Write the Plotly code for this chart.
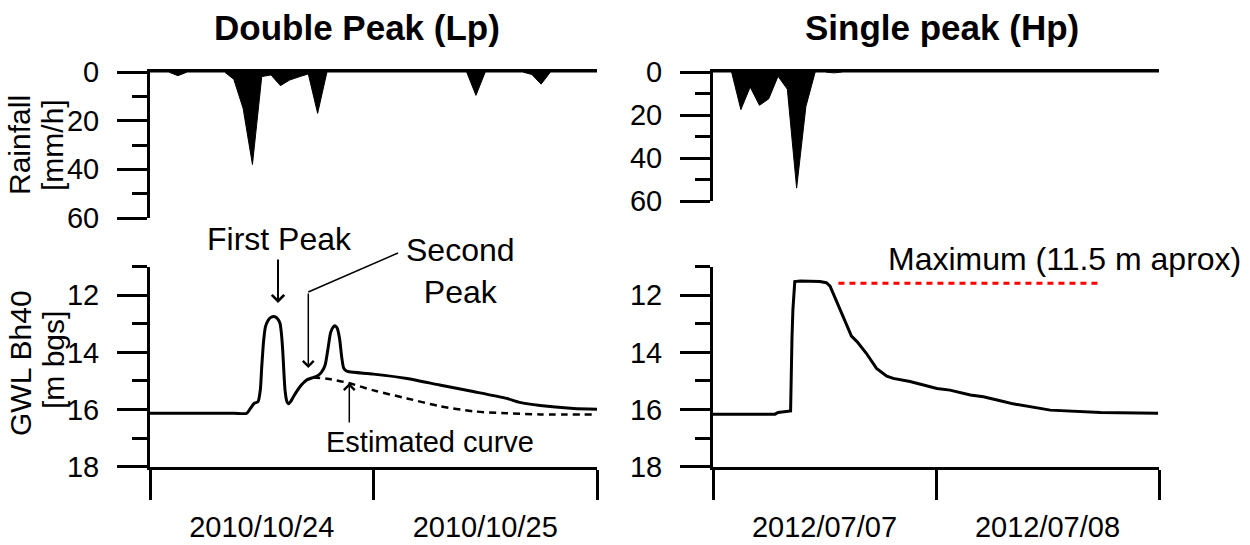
import pandas as pd
import plotly.graph_objects as go

W, H = 1250, 545
FONT = "Liberation Sans, Arial, Helvetica, sans-serif"

# ---------------- data ----------------
lp_start = "2010-10-24 00:00"
hp_start = "2012-07-07 00:00"
span_hours = 48

rain_lp_hours = [0, 2, 3, 4, 8, 9, 10, 11, 12, 13, 14, 15, 16, 17, 18, 19, 34, 35, 36, 40, 41, 42, 43, 48]
rain_lp_mm = [0, 0, 1.5, 0, 0, 3, 15, 38, 1.9, 1.2, 5.6, 3.3, 2.0, 0.8, 17, 0, 0, 9.6, 0, 0, 1.0, 5.0, 0, 0]

gwl_lp_hours = [0, 9.0, 10.4, 10.8, 11.2, 11.6, 11.85, 12.0, 12.2, 12.4, 12.7, 13.0, 13.4, 13.7, 13.96, 14.1,
                14.25, 14.5, 14.7, 14.86, 15.1, 15.4, 16.1, 16.8, 17.5, 18.0, 18.4, 18.8, 19.1, 19.4,
                19.7, 19.9, 20.1, 20.35, 20.6, 20.8, 21.1, 21.4, 24.0, 27.6, 31.1, 34.7, 38.3, 39.7,
                41.9, 45.5, 48.0]
gwl_lp_m = [16.13, 16.13, 16.13, 15.95, 15.78, 15.72, 15.3, 14.5, 13.6, 13.1, 12.87, 12.77, 12.75, 12.82, 12.98,
            13.3, 13.92, 15.32, 15.72, 15.8, 15.72, 15.55, 15.2, 14.97, 14.88, 14.82, 14.7, 14.45, 13.9, 13.3,
            13.1, 13.07, 13.15, 13.5, 14.2, 14.55, 14.65, 14.68, 14.76, 14.91, 15.14, 15.37, 15.61, 15.75,
            15.86, 15.96, 15.99]

est_lp_hours = [17.5, 19.0, 21.3, 24.0, 27.6, 31.1, 34.7, 38.3, 41.9, 48.0]
est_lp_m = [14.88, 14.92, 15.07, 15.33, 15.61, 15.88, 16.06, 16.13, 16.17, 16.17]

rain_hp_hours = [0, 2, 3, 4, 5, 6, 7, 8, 9, 10, 11, 12, 13, 14, 48]
rain_hp_mm = [0, 0, 17.5, 7, 15.5, 12.5, 2, 8, 54, 16, 0, 0, 0.4, 0, 0]

gwl_hp_hours = [0, 6.67, 7.0, 8.1, 8.35, 8.5, 8.6, 8.8, 9.4, 11.5, 12.2, 12.6, 13.1, 13.6, 14.4, 14.9,
                15.5, 16.5, 17.6, 18.7, 19.4, 21.2, 24.1, 25.5, 27.7, 29.1, 31.25, 32.3, 36.3, 41.7, 47.9]
gwl_hp_m = [16.16, 16.16, 16.1, 16.05, 16.05, 13.5, 12.5, 11.52, 11.5, 11.52, 11.56, 11.68, 12.05, 12.46,
            13.04, 13.43, 13.62, 14.03, 14.56, 14.83, 14.91, 15.02, 15.26, 15.32, 15.49, 15.55, 15.72,
            15.8, 16.02, 16.1, 16.13]

max_hp_hours = [13.5, 41.7]
max_hp_m = [11.58, 11.58]

titles = ["Double Peak (Lp)", "Single peak (Hp)"]


def times(start, hours):
    t0 = pd.Timestamp(start)
    return [t0 + pd.Timedelta(hours=h) for h in hours]


def px(x):
    return x / W


def py(y):
    return 1 - y / H


fig = go.Figure()

# rainfall traces
fig.add_trace(go.Scatter(x=times(lp_start, rain_lp_hours), y=rain_lp_mm, mode="lines",
                         line=dict(color="black", width=1), fill="tozeroy", fillcolor="black",
                         xaxis="x", yaxis="y", showlegend=False))
fig.add_trace(go.Scatter(x=times(hp_start, rain_hp_hours), y=rain_hp_mm, mode="lines",
                         line=dict(color="black", width=1), fill="tozeroy", fillcolor="black",
                         xaxis="x3", yaxis="y3", showlegend=False))

# groundwater traces
fig.add_trace(go.Scatter(x=times(lp_start, est_lp_hours), y=est_lp_m, mode="lines",
                         line=dict(color="black", width=2.5, dash="7px,5px", shape="spline", smoothing=0.8),
                         xaxis="x2", yaxis="y2", showlegend=False))
fig.add_trace(go.Scatter(x=times(lp_start, gwl_lp_hours), y=gwl_lp_m, mode="lines",
                         line=dict(color="black", width=3, shape="spline", smoothing=0.6),
                         xaxis="x2", yaxis="y2", showlegend=False))
fig.add_trace(go.Scatter(x=times(hp_start, max_hp_hours), y=max_hp_m, mode="lines",
                         line=dict(color="#ff0000", width=3, dash="6px,5px"),
                         xaxis="x4", yaxis="y4", showlegend=False))
fig.add_trace(go.Scatter(x=times(hp_start, gwl_hp_hours), y=gwl_hp_m, mode="lines",
                         line=dict(color="black", width=3),
                         xaxis="x4", yaxis="y4", showlegend=False))

left_dom = [px(150), px(597)]
right_dom = [px(713), px(1159)]
gwl_dom = [py(466.7), py(266.7)]

tickfont = dict(family=FONT, size=29, color="black")


def rain_x(dom, start, anchor):
    t0 = pd.Timestamp(start)
    return dict(domain=dom, anchor=anchor, type="date", range=[t0, t0 + pd.Timedelta(hours=span_hours)],
                side="top", showline=True, linewidth=3, linecolor="black", ticks="",
                showticklabels=False, showgrid=False, zeroline=False, automargin=False)


def gwl_x(dom, start, anchor):
    t0 = pd.Timestamp(start)
    return dict(domain=dom, anchor=anchor, type="date", range=[t0, t0 + pd.Timedelta(hours=span_hours)],
                side="bottom", showline=True, linewidth=3, linecolor="black", ticks="outside",
                ticklen=30, tickwidth=3, tickcolor="black", dtick=86400000, tick0=t0,
                tickformat="%Y/%m/%d", ticklabelmode="period", tickfont=tickfont,
                showgrid=False, zeroline=False, ticklabelstandoff=2, automargin=False)


def yax(dom, rng, dtick, minor_dtick, anchor):
    return dict(domain=dom, anchor=anchor, range=rng, showline=True, linewidth=3, linecolor="black",
                ticks="outside", ticklen=30, tickwidth=3, tickcolor="black", tick0=0, dtick=dtick,
                minor=dict(ticks="outside", ticklen=15, tickwidth=3, tickcolor="black", dtick=minor_dtick,
                           tick0=0, showgrid=False),
                tickfont=tickfont, showgrid=False, zeroline=False, ticklabelstandoff=12, automargin=False)


fig.update_layout(
    width=W, height=H, margin=dict(l=0, r=0, t=0, b=0, autoexpand=False),
    paper_bgcolor="white", plot_bgcolor="white", showlegend=False,
    font=dict(family=FONT, color="black"),
    xaxis=rain_x(left_dom, lp_start, "y"),
    yaxis=yax([py(218), py(72)], [60, 0], 20, 10, "x"),
    xaxis2=gwl_x(left_dom, lp_start, "y2"),
    yaxis2=yax(gwl_dom, [18, 11], 2, 1, "x2"),
    xaxis3=rain_x(right_dom, hp_start, "y3"),
    yaxis3=yax([py(201), py(72)], [60, 0], 20, 10, "x3"),
    xaxis4=gwl_x(right_dom, hp_start, "y4"),
    yaxis4=yax(gwl_dom, [18, 11], 2, 1, "x4"),
)

ann = []


def text(t, x, y, size, **kw):
    d = dict(text=t, x=px(x), y=py(y), xref="paper", yref="paper", showarrow=False,
             xanchor="center", yanchor="middle", font=dict(family=FONT, size=size, color="black"))
    d.update(kw)
    ann.append(d)


def arrow(x, y, ax, ay, width=2, size=1.2):
    ann.append(dict(text="", x=px(x), y=py(y), xref="paper", yref="paper", showarrow=True,
                    ax=ax, ay=ay, axref="pixel", ayref="pixel", arrowhead=4, arrowsize=size,
                    arrowwidth=width, arrowcolor="black"))


text("<b>" + titles[0] + "</b>", 357.5, 27, 35)
text("<b>" + titles[1] + "</b>", 941.7, 27, 35)
text("Rainfall", 20, 145, 30, textangle=-90)
text("[mm/h]", 53, 145, 30, textangle=-90)
text("GWL Bh40", 20, 363, 30, textangle=-90)
text("[m bgs]", 53, 360, 30, textangle=-90)
text("First Peak", 279, 239, 32)
text("Second<br>Peak", 460, 271, 32)
text("Estimated curve", 430, 442, 29)
text("Maximum (11.5 m aprox)", 1064.5, 259, 32)

arrow(278, 303, 0, -45, width=2, size=1.2)
arrow(308.3, 368, 0, -76, width=1.5, size=1.4)
arrow(349.3, 383, 0, 41, width=1.5, size=1.4)

fig.update_layout(annotations=ann)
fig.add_shape(type="line", xref="paper", yref="paper", x0=px(398), y0=py(253), x1=px(308.3), y1=py(292),
              line=dict(color="black", width=1.5))

fig.write_html("out.html")
